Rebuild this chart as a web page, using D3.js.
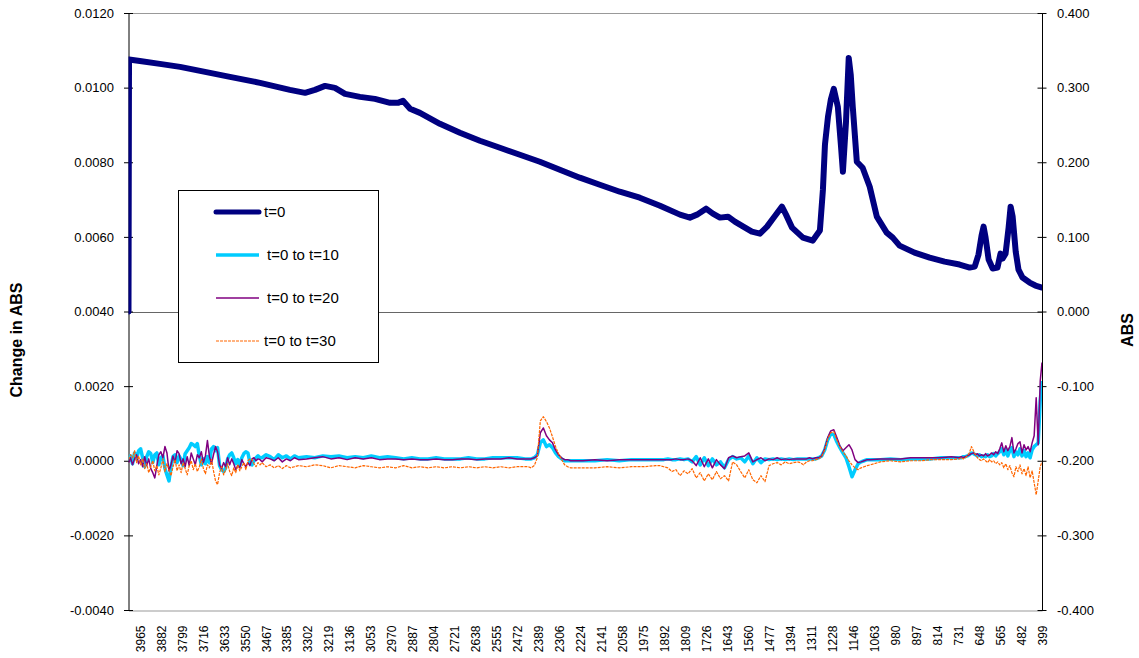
<!DOCTYPE html>
<html>
<head>
<meta charset="utf-8">
<script src="https://cdn.jsdelivr.net/npm/d3@7"></script>
<style>
  body { margin: 0; background: #fff; }
  svg { display: block; }
  text { font-family: "Liberation Sans", Arial, sans-serif; fill: #000; }
</style>
</head>
<body>
<svg id="chart" width="1139" height="658"></svg>
<script>
// Wavenumber labels along the category axis (cm-1)
const categoryTicks = [3965, 3882, 3799, 3716, 3633, 3550, 3467, 3385, 3302, 3219, 3136, 3053,
  2970, 2887, 2804, 2721, 2638, 2555, 2472, 2389, 2306, 2224, 2141, 2058, 1975, 1892, 1809,
  1726, 1643, 1560, 1477, 1394, 1311, 1228, 1146, 1063, 980, 897, 814, 731, 648, 565, 482, 399];
const changeTicks = [-0.004, -0.002, 0, 0.002, 0.004, 0.006, 0.008, 0.010, 0.012];
const absTicks = [-0.4, -0.3, -0.2, -0.1, 0, 0.1, 0.2, 0.3, 0.4];
const seriesNames = ["t=0", "t=0 to t=10", "t=0 to t=20", "t=0 to t=30"];

// t=0 spectrum (ABS, right axis)
const t0Wavenumber = [4010, 4008, 3965, 3886, 3806, 3727, 3609, 3490, 3372, 3312,
  3273, 3233, 3194, 3154, 3095, 3036, 2976, 2945, 2925, 2897,
  2858, 2779, 2700, 2621, 2542, 2463, 2384, 2305, 2226, 2147,
  2068, 1989, 1909, 1830, 1791, 1763, 1727, 1700, 1672, 1640,
  1613, 1573, 1546, 1514, 1486, 1454, 1427, 1411, 1387, 1344,
  1305, 1277, 1265, 1257, 1245, 1234, 1222, 1206, 1194, 1186,
  1174, 1163, 1155, 1147, 1131, 1108, 1080, 1052, 1013, 989,
  962, 903, 843, 784, 725, 685, 665, 650, 638, 630,
  622, 610, 594, 575, 563, 555, 543, 531, 523, 515,
  503, 492, 476, 448, 425, 399];
const t0Abs = [0, 0.3378, 0.3358, 0.3318, 0.3278, 0.3224, 0.3144, 0.3064, 0.2970, 0.2930,
  0.2970, 0.3023, 0.2997, 0.2916, 0.2876, 0.2849, 0.2796, 0.2796, 0.2823, 0.2716,
  0.2662, 0.2515, 0.2395, 0.2288, 0.2194, 0.2100, 0.2007, 0.1900, 0.1793, 0.1699,
  0.1605, 0.1525, 0.1418, 0.1298, 0.1258, 0.1298, 0.1378, 0.1311, 0.1258, 0.1271,
  0.1204, 0.1124, 0.1070, 0.1043, 0.1137, 0.1284, 0.1405, 0.1298, 0.1124, 0.0990,
  0.0950, 0.1084, 0.1632, 0.2234, 0.2609, 0.2836, 0.2983, 0.2742, 0.2234, 0.1873,
  0.2528, 0.3398, 0.3171, 0.2742, 0.2007, 0.1926, 0.1672, 0.1271, 0.1057, 0.0990,
  0.0883, 0.0789, 0.0722, 0.0669, 0.0629, 0.0589, 0.0602, 0.0763, 0.1017, 0.1137,
  0.0990, 0.0696, 0.0575, 0.0589, 0.0776, 0.0709, 0.0776, 0.1124, 0.1405, 0.1271,
  0.0803, 0.0562, 0.0455, 0.0388, 0.0348, 0.0321];

// Difference spectra (change in ABS, left axis); rows follow the same wavenumber blocks
const diffWavenumber = [
  4010, 4002, 3994, 3986, 3978, 3970, 3962, 3954, 3946, 3938, 3930, 3922, 3914, 3906, 3898, 3890, 3882, 3874, 3866, 3858, 3850, 3842, 3834, 3826, 3818, 3810, 3802, 3794, 3786, 3778, 3770, 3762, 3754, 3746, 3738, 3730, 3722, 3714, 3706, 3698, 3690, 3682, 3674, 3666, 3658, 3650, 3642, 3634, 3626, 3618, 3610, 3602, 3594, 3586, 3578, 3570, 3562, 3554, 3546, 3538, 3530, 3522, 3514, 3506, 3498, 3490,
  3482, 3466, 3450, 3434, 3418, 3402, 3386, 3370, 3354, 3338,
  3306, 3274, 3242, 3210, 3178, 3146, 3114, 3082, 3050, 3018, 2986, 2954, 2922, 2890, 2858, 2826, 2794, 2762, 2730, 2698, 2666, 2634, 2602, 2570, 2538, 2506, 2474, 2442,
  2430, 2418, 2406, 2394, 2382, 2370, 2358, 2346, 2334, 2322, 2310, 2298, 2286, 2274, 2262,
  2214, 2166, 2118, 2070, 2022, 1974, 1926,
  1910, 1894, 1878, 1862, 1846, 1830, 1814, 1798, 1782, 1766, 1750, 1734, 1718, 1702, 1686, 1670, 1654, 1638, 1622, 1606, 1590, 1574, 1558, 1542, 1526, 1510, 1494, 1478, 1462, 1446, 1430, 1414, 1398, 1382, 1366,
  1354, 1342, 1330, 1318, 1306, 1294, 1282, 1270, 1258, 1246, 1234, 1222, 1210, 1198, 1186, 1174, 1162, 1150, 1138, 1126, 1114, 1102, 1090, 1078,
  1038, 998, 958, 918, 878, 838, 798, 758,
  726, 718, 710, 702, 694, 686, 678, 670, 662, 654, 646, 638, 630, 622, 614, 606, 598, 590, 582, 574, 566, 558, 550, 542, 534, 526, 518, 510, 502, 494, 486, 478, 470, 462, 454, 446, 438, 430, 422, 414, 406, 399];

const diff10 = [
  0, 0.00013, -0.00008, 0.00021, 0.00005, 0.00027, 0.00032, 0.00008, -0.00016, 0.00011, 0.00024, 0.00019, -0.00005, 0.00016, 0.00021, -0.00011, 0.00008, 0.00013, -0.00021, -0.00038, -0.00054, -0.00016, 0.00011, 0.00016, -0.00005, 0.00013, 0.00003, -0.00013, 0.00019, 0.00027, 0.00035, 0.00046, 0.00043, 0.00038, 0.00046, 0.00013, -0.00011, 0.00005, -0.00008, 0.00011, -0.00005, 0.00032, 0.00038, 0.00027, 0.00035, -0.00013, -0.00024, -0.00029, -0.00019, 0.00005, 0.00016, 0.00021, 0.00008, -0.00008, 0.00003, -0.00013, 0.00008, 0.00019, 0.00024, 0.00021, -0.00005, -0.00011, 0, 0.00008, 0.00013, 0.00008,
  0.00008, 0.00016, 0.00011, 0.00003, 0.00016, 0.00008, 0.00013, 0.00005, 0.00013, 0.00008,
  0.00011, 0.00008, 0.00013, 0.00011, 0.00013, 0.00008, 0.00011, 0.00008, 0.00013, 0.00008, 0.00011, 0.00008, 0.00005, 0.00008, 0.00005, 0.00005, 0.00008, 0.00005, 0.00005, 0.00005, 0.00008, 0.00005, 0.00005, 0.00008, 0.00008, 0.00008, 0.00008, 0.00005,
  0.00005, 0.00005, 0.00008, 0.00016, 0.00048, 0.00056, 0.00038, 0.00043, 0.00035, 0.00021, 0.00011, 0.00005, 0, 0, 0,
  0, 0, 0.00003, 0, 0.00003, 0.00003, 0.00003,
  0.00003, 0.00003, 0.00005, 0.00003, 0.00003, 0.00005, 0.00003, 0.00005, -0.00003, 0.00011, -0.00011, 0.00008, -0.00013, 0.00005, -0.00011, -0.00003, -0.00019, 0.00003, 0.00011, 0.00005, 0.00008, -0.00003, 0.00013, -0.00008, 0.00008, -0.00005, 0.00005, 0.00003, 0.00005, 0.00003, 0.00005, 0.00003, 0.00005, 0.00003, 0.00005,
  0.00005, 0.00005, 0.00005, 0.00005, 0.00005, 0.00005, 0.00008, 0.00013, 0.00029, 0.00056, 0.00072, 0.00070, 0.00051, 0.00035, 0.00021, 0.00008, -0.00016, -0.00043, -0.00024, -0.00008, -0.00003, 0, 0.00003, 0.00003,
  0.00003, 0.00005, 0.00003, 0.00005, 0.00005, 0.00005, 0.00008, 0.00008,
  0.00008, 0.00008, 0.00011, 0.00011, 0.00013, 0.00016, 0.00021, 0.00019, 0.00016, 0.00013, 0.00016, 0.00011, 0.00013, 0.00011, 0.00016, 0.00011, 0.00013, 0.00019, 0.00013, 0.00019, 0.00024, 0.00032, 0.00016, 0.00029, 0.00013, 0.00027, 0.00035, 0.00011, 0.00024, 0.00016, 0.00032, 0.00013, 0.00027, 0.00011, 0.00021, 0.00008, 0.00029, 0.00038, 0.00043, 0.00048, 0.00161, 0.00214];

const diff20 = [
  -0.00005, 0.00008, -0.00011, 0.00005, 0.00016, -0.00008, 0.00003, -0.00016, 0.00011, -0.00013, 0.00005, -0.00021, -0.00032, -0.00046, -0.00013, 0.00016, 0.00024, 0.00008, 0.00038, 0.00021, -0.00027, -0.00011, 0.00013, -0.00005, 0.00027, 0.00019, -0.00008, 0.00005, -0.00016, 0.00011, -0.00013, 0.00021, 0.00005, -0.00011, 0.00016, 0.00008, 0.00024, -0.00005, 0.00013, 0.00054, 0.00011, -0.00008, 0.00016, 0.00038, 0.00024, -0.00011, -0.00021, -0.00005, -0.00016, 0.00008, -0.00011, 0.00005, -0.00008, -0.00024, -0.00013, -0.00019, 0.00003, -0.00008, -0.00016, -0.00005, -0.00013, 0.00005, 0.00008, 0, 0.00005, 0.00003,
  -0.00003, 0.00008, 0.00005, 0, 0.00008, -0.00003, 0.00005, 0, 0.00008, 0.00003,
  0.00005, 0.00008, 0.00011, 0.00005, 0.00008, 0.00003, 0.00008, 0.00005, 0.00008, 0.00003, 0.00005, 0.00005, 0.00003, 0.00005, 0.00003, 0.00003, 0.00005, 0.00003, 0.00003, 0.00005, 0.00005, 0.00003, 0.00005, 0.00005, 0.00005, 0.00008, 0.00005, 0.00005,
  0.00005, 0.00005, 0.00008, 0.00013, 0.00075, 0.00088, 0.00067, 0.00056, 0.00048, 0.00029, 0.00016, 0.00008, 0.00003, 0.00003, 0,
  0, 0.00003, 0, 0.00003, 0.00003, 0.00003, 0.00003,
  0.00003, 0.00003, 0.00003, 0.00003, 0.00005, 0.00003, 0.00003, 0.00005, 0, -0.00013, 0.00008, -0.00016, 0.00005, -0.00019, 0.00003, -0.00011, -0.00021, 0.00008, 0.00013, 0.00008, 0.00011, 0.00013, 0.00021, -0.00003, 0.00003, 0.00008, 0, 0.00005, 0.00003, 0.00008, 0.00003, 0.00005, 0.00003, 0.00005, 0.00005,
  0.00005, 0.00005, 0.00005, 0.00008, 0.00005, 0.00008, 0.00008, 0.00013, 0.00032, 0.00062, 0.00080, 0.00083, 0.00062, 0.00040, 0.00027, 0.00035, 0.00043, 0.00029, 0.00003, -0.00005, -0.00003, 0, 0.00003, 0.00003,
  0.00005, 0.00005, 0.00005, 0.00008, 0.00008, 0.00008, 0.00008, 0.00011,
  0.00008, 0.00011, 0.00008, 0.00011, 0.00013, 0.00016, 0.00019, 0.00021, 0.00016, 0.00019, 0.00013, 0.00016, 0.00013, 0.00019, 0.00013, 0.00016, 0.00021, 0.00016, 0.00024, 0.00019, 0.00032, 0.00048, 0.00024, 0.00040, 0.00027, 0.00038, 0.00062, 0.00021, 0.00032, 0.00046, 0.00051, 0.00021, 0.00043, 0.00029, 0.00038, 0.00024, 0.00048, 0.00067, 0.00169, 0.00043, 0.00214, 0.00263];

const diff30 = [
  0.00003, 0.00016, 0.00008, 0.00027, -0.00005, 0.00013, -0.00011, 0.00005, -0.00021, -0.00008, -0.00032, -0.00016, 0, -0.00027, -0.00013, -0.00038, -0.00019, 0.00005, -0.00029, -0.00008, -0.00024, -0.00040, -0.00016, 0.00003, -0.00027, -0.00011, -0.00032, -0.00005, -0.00021, -0.00038, -0.00013, 0, -0.00024, -0.00008, -0.00029, -0.00016, 0.00005, -0.00021, -0.00035, -0.00011, -0.00019, 0.00003, -0.00027, -0.00054, -0.00064, -0.00032, -0.00016, -0.00038, -0.00024, -0.00008, -0.00029, -0.00040, -0.00019, -0.00032, -0.00011, -0.00027, -0.00016, -0.00005, -0.00024, 0, 0.00005, 0.00003, -0.00008, -0.00016, -0.00005, -0.00011,
  -0.00005, -0.00016, -0.00011, -0.00019, -0.00013, -0.00021, -0.00013, -0.00019, -0.00016, -0.00013,
  -0.00016, -0.00011, -0.00013, -0.00019, -0.00013, -0.00016, -0.00019, -0.00013, -0.00016, -0.00019, -0.00016, -0.00019, -0.00013, -0.00019, -0.00016, -0.00019, -0.00016, -0.00019, -0.00016, -0.00019, -0.00016, -0.00019, -0.00016, -0.00019, -0.00016, -0.00019, -0.00016, -0.00016,
  -0.00016, -0.00019, -0.00013, 0.00008, 0.00107, 0.00118, 0.00105, 0.00088, 0.00064, 0.00038, 0.00019, 0.00003, -0.00011, -0.00016, -0.00019,
  -0.00019, -0.00019, -0.00016, -0.00019, -0.00016, -0.00016, -0.00013,
  -0.00013, -0.00016, -0.00019, -0.00029, -0.00024, -0.00040, -0.00027, -0.00035, -0.00021, -0.00046, -0.00032, -0.00054, -0.00035, -0.00051, -0.00029, -0.00048, -0.00040, -0.00054, -0.00003, -0.00011, -0.00029, -0.00046, -0.00024, -0.00051, -0.00059, -0.00040, -0.00056, -0.00013, -0.00008, -0.00005, -0.00011, -0.00003, -0.00008, -0.00005, -0.00003,
  -0.00005, -0.00011, -0.00003, 0, 0, 0.00003, 0.00005, 0.00011, 0.00029, 0.00059, 0.00075, 0.00078, 0.00056, 0.00038, 0.00024, 0.00013, 0, -0.00011, -0.00019, -0.00024, -0.00019, -0.00016, -0.00013, -0.00011,
  -0.00003, 0, -0.00003, 0, 0, 0.00003, 0.00003, 0.00003,
  0.00005, 0.00008, 0.00005, 0.00008, 0.00013, 0.00021, 0.00038, 0.00027, 0.00016, 0.00008, 0.00003, 0, 0.00005, 0, -0.00005, 0.00003, -0.00003, 0, -0.00008, -0.00003, -0.00011, -0.00005, -0.00019, -0.00008, -0.00024, -0.00013, -0.00032, -0.00043, -0.00016, -0.00029, -0.00011, -0.00035, -0.00021, -0.00040, -0.00016, -0.00046, -0.00027, -0.00059, -0.00091, -0.00054, -0.00016, -0.00003];

// ---- layout ----
const plot = { left: 128.5, right: 1042, top: 13, bottom: 610 };
const svg = d3.select("#chart");

const x = d3.scaleLinear().domain([4010, 399]).range([plot.left, plot.right]);
const yChange = d3.scaleLinear().domain([-0.004, 0.012]).range([plot.bottom, plot.top]);
const yAbs = d3.scaleLinear().domain([-0.4, 0.4]).range([plot.bottom, plot.top]);

svg.append("defs").append("clipPath").attr("id", "plotClip")
  .append("rect")
  .attr("x", plot.left).attr("y", plot.top)
  .attr("width", plot.right - plot.left).attr("height", plot.bottom - plot.top);

// plot frame lines (top border and zero line of the ABS axis)
svg.append("line")
  .attr("x1", plot.left).attr("x2", plot.right)
  .attr("y1", plot.top + 0.5).attr("y2", plot.top + 0.5)
  .attr("stroke", "#999").attr("stroke-width", 1);
svg.append("line")
  .attr("x1", plot.left).attr("x2", plot.right)
  .attr("y1", Math.round(yAbs(0)) + 0.5).attr("y2", Math.round(yAbs(0)) + 0.5)
  .attr("stroke", "#666").attr("stroke-width", 1);

// category axis
const xAxis = svg.append("g")
  .attr("transform", `translate(0,${plot.bottom + 0.5})`)
  .call(d3.axisBottom(x).tickValues(categoryTicks).tickFormat(d3.format("d")).tickSize(0).tickSizeOuter(0));
xAxis.select(".domain").attr("stroke", "#999");
xAxis.selectAll("text")
  .attr("transform", "rotate(-90)")
  .attr("text-anchor", "end")
  .attr("x", -15).attr("y", 0).attr("dy", "0.35em")
  .style("font-size", "12px");

// left axis: change in ABS
const leftAxis = svg.append("g")
  .attr("transform", `translate(${plot.left},0)`)
  .call(d3.axisLeft(yChange).tickValues(changeTicks).tickFormat(d => d.toFixed(4))
    .tickSize(4.5).tickSizeOuter(0).tickPadding(10));
leftAxis.selectAll(".tick line").attr("x1", 4.5);
leftAxis.selectAll("text").style("font-size", "13px");

// right axis: ABS
const rightAxis = svg.append("g")
  .attr("transform", `translate(${plot.right},0)`)
  .call(d3.axisRight(yAbs).tickValues(absTicks).tickFormat(d => d.toFixed(3))
    .tickSize(4.5).tickSizeOuter(0).tickPadding(10.5));
rightAxis.selectAll(".tick line").attr("x1", -4.5);
rightAxis.selectAll("text").style("font-size", "13px");

// axis titles
svg.append("text")
  .attr("transform", "translate(22,340) rotate(-90)")
  .attr("text-anchor", "middle")
  .style("font-size", "16px").style("font-weight", "bold")
  .text("Change in ABS");
svg.append("text")
  .attr("transform", "translate(1133,330) rotate(-90)")
  .attr("text-anchor", "middle")
  .style("font-size", "16px").style("font-weight", "bold")
  .text("ABS");

// series
const styles = [
  { color: "#000080", width: 6, dash: null },
  { color: "#00CCFF", width: 3.5, dash: null },
  { color: "#800080", width: 1.5, dash: null },
  { color: "#FF6600", width: 1.2, dash: "3,1" }
];

const lines = svg.append("g").attr("clip-path", "url(#plotClip)");
const diffLine = d3.line()
  .defined(d => Number.isFinite(d[1]))
  .x(d => x(d[0])).y(d => yChange(d[1]));
[diff10, diff20, diff30].forEach((vals, i) => {
  const s = styles[i + 1];
  lines.append("path")
    .datum(diffWavenumber.map((w, k) => [w, vals[k]]))
    .attr("d", diffLine)
    .attr("fill", "none")
    .attr("stroke", s.color)
    .attr("stroke-width", s.width)
    .attr("stroke-linejoin", "round")
    .attr("stroke-dasharray", s.dash);
});

const absLine = d3.line().x(d => x(d[0])).y(d => yAbs(d[1]));
lines.append("path")
  .datum(t0Wavenumber.map((w, k) => [w, t0Abs[k]]))
  .attr("d", absLine)
  .attr("fill", "none")
  .attr("stroke", styles[0].color)
  .attr("stroke-width", styles[0].width)
  .attr("stroke-linejoin", "round")
  .attr("stroke-linecap", "round");

// legend
const legend = svg.append("g");
legend.append("rect")
  .attr("x", 178.5).attr("y", 190.5).attr("width", 200).attr("height", 172)
  .attr("fill", "#fff").attr("stroke", "#000").attr("stroke-width", 1);
const legendRows = [212, 255, 298, 341];
const legendTextX = [264, 267, 267, 264];
seriesNames.forEach((name, i) => {
  const s = styles[i];
  legend.append("line")
    .attr("x1", 216).attr("x2", 259)
    .attr("y1", legendRows[i]).attr("y2", legendRows[i])
    .attr("stroke", s.color)
    .attr("stroke-width", i === 0 ? 5 : s.width)
    .attr("stroke-linecap", i === 0 ? "round" : "butt")
    .attr("stroke-dasharray", s.dash);
  legend.append("text")
    .attr("x", legendTextX[i]).attr("y", legendRows[i])
    .attr("dy", "0.35em")
    .style("font-size", "15px")
    .text(name);
});
</script>
</body>
</html>
